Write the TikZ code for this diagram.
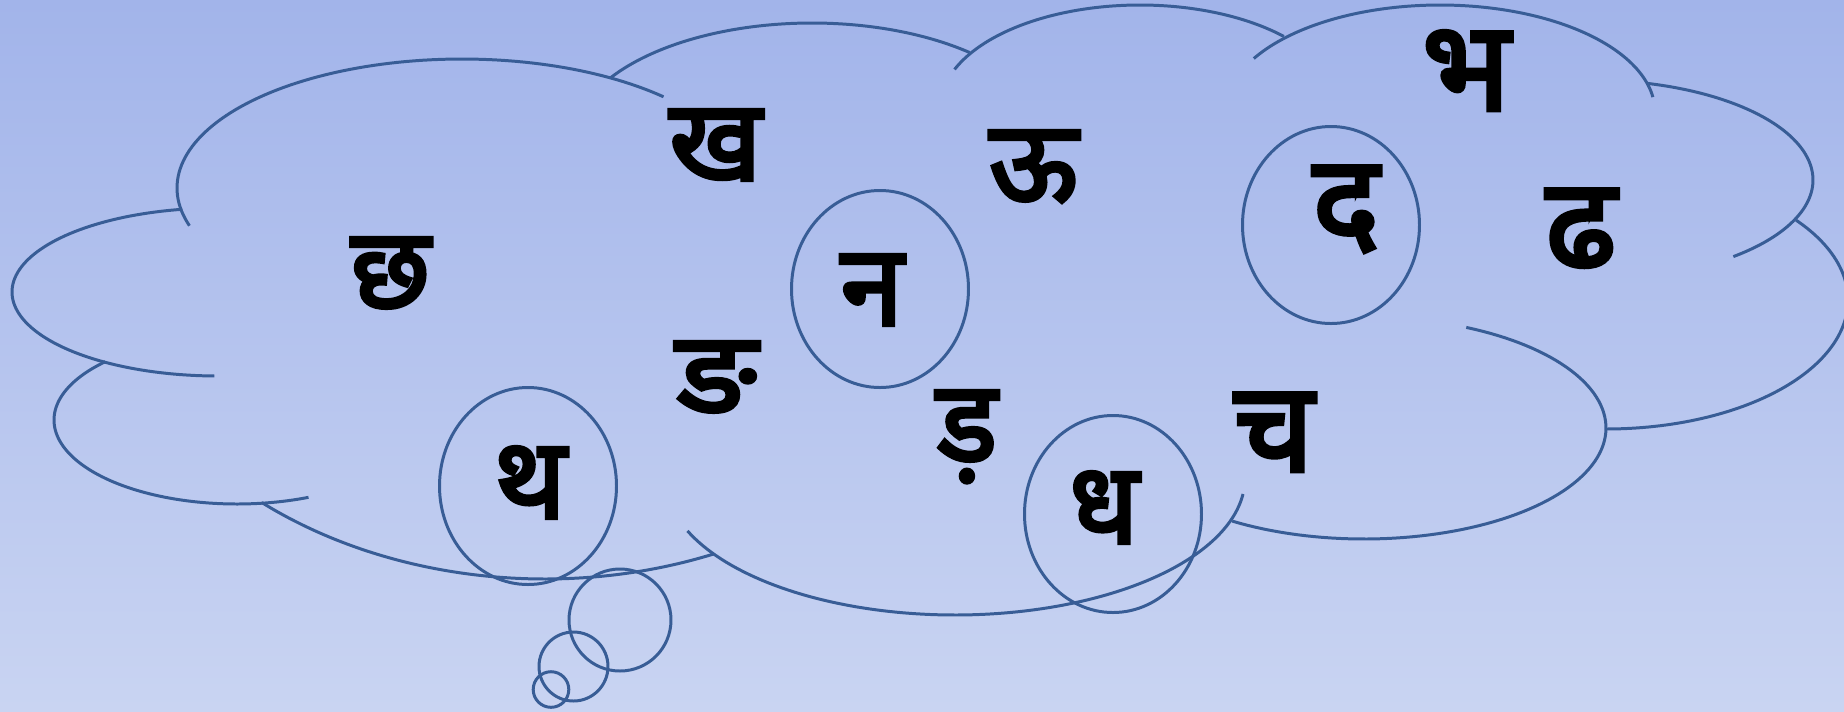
\documentclass[tikz,border=0pt]{standalone}
\usepackage{fontspec}
\newfontfamily\deva[Script=Devanagari,FakeBold=3.6]{Noto Sans}
\definecolor{bgtop}{RGB}{162,180,234}
\definecolor{bgbot}{RGB}{201,212,242}
\definecolor{cloudline}{RGB}{56,93,150}
\tikzset{
  cloudstroke/.style={draw=cloudline, line width=0.85pt},
  letter/.style={font=\deva\fontsize{32}{34}\selectfont, inner sep=0pt, anchor=base, text=black},
  bigletter/.style={letter, font=\deva\fontsize{35.5}{37}\selectfont},
}
% centre x, x radius, centre y, y radius, start, end  (pixel units, y downwards)
\newcommand{\cloudarc}[6]{\draw[cloudstroke] plot[domain=#5:#6,samples=90,variable=\t] ({#1+#2*cos(\t)},{#3+#4*sin(\t)});}
\begin{document}
\begin{tikzpicture}[x=0.01cm,y=-0.01cm]
\useasboundingbox (0,0) rectangle (1844,711);
\clip (0,0) rectangle (1844,711);
\shade[top color=bgtop, bottom color=bgbot] (0,0) rectangle (1844,711);

% cloud outline (arcs with their inner continuations)
\cloudarc{462}{285}{188}{129}{163}{315}   % A top-left
\cloudarc{218}{206}{292}{84}{91}{260}     % B left
\cloudarc{237}{183}{420}{84}{67}{224}     % C lower-left
\cloudarc{545}{450}{236}{343}{68}{129}    % D bottom-left
\cloudarc{955}{290}{478}{137}{6.7}{157.3} % E bottom
\cloudarc{1364}{242}{428}{111}{-65}{123}  % F lower-right
\cloudarc{1606}{242}{300}{129}{-38.2}{90} % R2 right
\cloudarc{1590}{223}{180}{100}{-75}{50}   % R1 upper-right
\cloudarc{1440}{215}{112}{107}{210}{352}  % T3
\cloudarc{1140}{200}{108}{103}{202}{316}  % T2
\cloudarc{812}{240}{143}{120}{213}{311}   % T1

% thought bubbles
\draw[cloudstroke] (620,620) circle [radius=51];
\draw[cloudstroke] (573.5,666.5) circle [radius=34.5];
\draw[cloudstroke] (551,689.5) circle [radius=17.8];

% rings round some letters
\draw[cloudstroke] (880,289) ellipse [x radius=88.5, y radius=98.5];
\draw[cloudstroke] (1331,225) ellipse [x radius=88.5, y radius=98.5];
\draw[cloudstroke] (528,486) ellipse [x radius=88.5, y radius=98.5];
\draw[cloudstroke] (1113,514) ellipse [x radius=88.5, y radius=98.5];

% letters
\node[letter] (cha)  at (390.5,308) {छ};
\node[letter] (kha)  at (715.5,180) {ख};
\node[letter] (uu)   at (1033.5,201) {ऊ};
\node[bigletter] (bha) at (1466,110) {भ};
\node[letter] (na)   at (872,325) {न};
\node[bigletter] (da) at (1346,244) {द};
\node[bigletter] (ddha) at (1581,267) {ढ};
\node[letter,xscale=1.12] (nga)  at (716.5,412) {ङ};
\node[letter] (tha)  at (530,518) {थ};
\node[letter] (rra)  at (967,461) {ड़};
\node[letter] (dha)  at (1104,543) {ध};
\node[bigletter] (ca) at (1274,471) {च};
\end{tikzpicture}
\end{document}
